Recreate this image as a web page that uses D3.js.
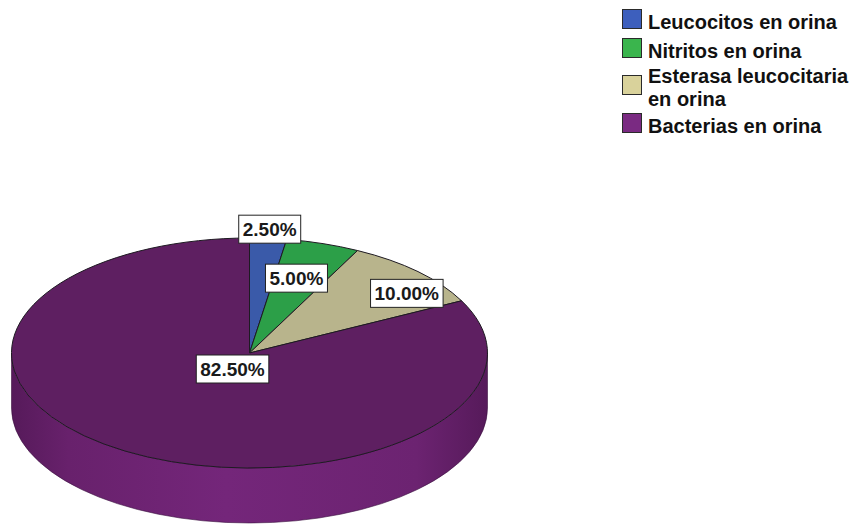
<!DOCTYPE html>
<html>
<head>
<meta charset="utf-8">
<script src="https://cdn.jsdelivr.net/npm/d3@7"></script>
<style>
  html, body { margin: 0; padding: 0; background: #ffffff; }
  svg { display: block; }
  text { font-family: "Liberation Sans", Arial, sans-serif; font-weight: bold; }
</style>
</head>
<body>
<svg id="chart" width="863" height="524"></svg>
<script>
// ---- data ----
const categories = ["Leucocitos en orina", "Nitritos en orina", "Esterasa leucocitaria en orina", "Bacterias en orina"];
const legendLines = [["Leucocitos en orina"], ["Nitritos en orina"], ["Esterasa leucocitaria", "en orina"], ["Bacterias en orina"]];
const percentages = [2.5, 5.0, 10.0, 82.5];
const valueLabels = ["2.50%", "5.00%", "10.00%", "82.50%"];

// ---- styles ----
const topColors = ["#3a5aa9", "#2c9f48", "#b8b48c", "#5e1f61"];
const legendColors = ["#3d5fbd", "#3ab54d", "#d9d29b", "#7a2a82"];

const svg = d3.select("#chart");

// pie geometry (ellipse for a tilted 3D pie)
const cx = 249.5, cy = 353, rx = 238, ry = 115, depth = 55;

const pie = d3.pie().sort(null).value(d => d)
  .startAngle(0).endAngle(2 * Math.PI);
const arcs = pie(percentages);

const px = a => cx + rx * Math.sin(a);
const py = a => cy - ry * Math.cos(a);

// gradient for side
const defs = svg.append("defs");
const grad = defs.append("linearGradient").attr("id", "sideGrad")
  .attr("gradientUnits", "userSpaceOnUse")
  .attr("x1", cx - rx).attr("x2", cx + rx).attr("y1", 0).attr("y2", 0);
grad.append("stop").attr("offset", "0%").attr("stop-color", "#561a5a");
grad.append("stop").attr("offset", "12%").attr("stop-color", "#68216c");
grad.append("stop").attr("offset", "45%").attr("stop-color", "#74267a");
grad.append("stop").attr("offset", "85%").attr("stop-color", "#6c2371");
grad.append("stop").attr("offset", "100%").attr("stop-color", "#561a5a");

// side faces: visible front portion between pi/2 and 3pi/2
const gSide = svg.append("g");
arcs.forEach((d, i) => {
  const a0 = Math.max(d.startAngle, Math.PI / 2);
  const a1 = Math.min(d.endAngle, 3 * Math.PI / 2);
  if (a1 <= a0) return;
  const large = (a1 - a0) > Math.PI ? 1 : 0;
  const path = `M${px(a0)},${py(a0)} A${rx},${ry} 0 ${large} 1 ${px(a1)},${py(a1)}` +
    ` L${px(a1)},${py(a1) + depth} A${rx},${ry} 0 ${large} 0 ${px(a0)},${py(a0) + depth} Z`;
  gSide.append("path")
    .attr("d", path)
    .attr("fill", i === 3 ? "url(#sideGrad)" : d3.color(topColors[i]).brighter(0.2))
    .attr("stroke", "#3a1040").attr("stroke-width", 0.6);
});

// top faces
const gTop = svg.append("g");
arcs.forEach((d, i) => {
  const a0 = d.startAngle, a1 = d.endAngle;
  const large = (a1 - a0) > Math.PI ? 1 : 0;
  const path = `M${cx},${cy} L${px(a0)},${py(a0)} A${rx},${ry} 0 ${large} 1 ${px(a1)},${py(a1)} Z`;
  gTop.append("path")
    .attr("d", path)
    .attr("fill", topColors[i])
    .attr("stroke", "#1e1a22").attr("stroke-width", 1)
    .attr("stroke-linejoin", "round");
});

// value labels (placement factors relative to slice mid-angle on the ellipse)
const labelPlace = [
  { r: 1.08, da: 0.0, dx: 0, dy: 0 },
  { r: 0.68, da: -0.02, dx: 0, dy: 0 },
  { r: 0.84, da: 0.12, dx: 0, dy: 0 },
  { r: 0.0, da: 0, dx: -17, dy: 16 }
];
const gLab = svg.append("g");
arcs.forEach((d, i) => {
  const m = (d.startAngle + d.endAngle) / 2 + labelPlace[i].da;
  const x = cx + labelPlace[i].r * rx * Math.sin(m) + labelPlace[i].dx;
  const y = cy - labelPlace[i].r * ry * Math.cos(m) + labelPlace[i].dy;
  const g = gLab.append("g");
  const t = g.append("text")
    .attr("x", x).attr("y", y + 7)
    .attr("text-anchor", "middle")
    .attr("font-size", 19)
    .attr("fill", "#1a1a1a")
    .text(valueLabels[i]);
  const bb = t.node().getBBox();
  g.insert("rect", "text")
    .attr("x", bb.x - 4).attr("y", y - 14)
    .attr("width", bb.width + 8).attr("height", 28)
    .attr("fill", "#ffffff")
    .attr("stroke", "#222").attr("stroke-width", 1);
});

// legend
const gLeg = svg.append("g");
const legendRowY = [9, 38, 75, 113];
legendLines.forEach((lines, i) => {
  const y0 = legendRowY[i];
  gLeg.append("rect")
    .attr("x", 622.5).attr("y", y0 + 0.5)
    .attr("width", 19).attr("height", 19)
    .attr("fill", legendColors[i])
    .attr("stroke", "#2a2a2a").attr("stroke-width", 1);
  const baseY = lines.length === 1 ? y0 + 20 : y0 + 8;
  const t = gLeg.append("text")
    .attr("x", 648).attr("y", baseY)
    .attr("font-size", 20)
    .attr("fill", "#111");
  lines.forEach((ln, j) => {
    t.append("tspan")
      .attr("x", 648)
      .attr("dy", j === 0 ? 0 : 22.5)
      .text(ln);
  });
});
</script>
</body>
</html>
